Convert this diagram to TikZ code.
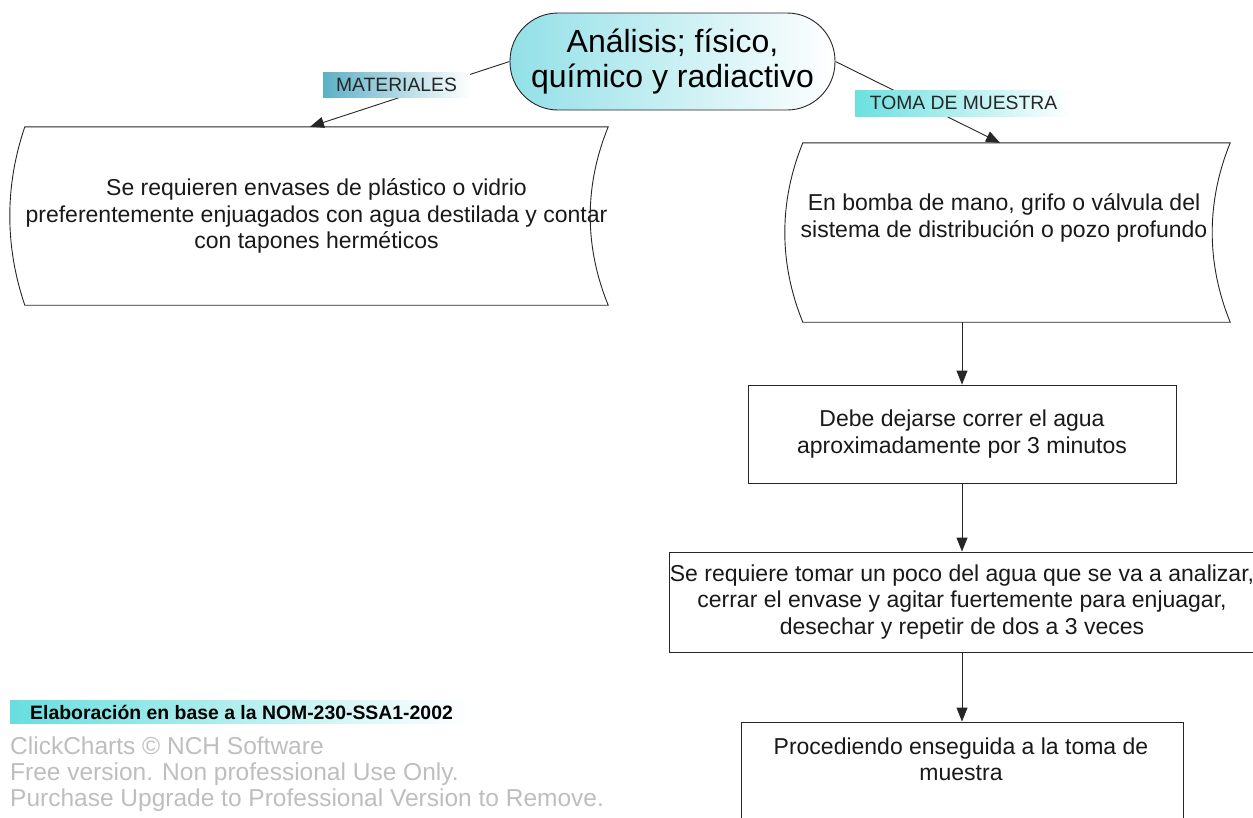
\documentclass[tikz,border=0pt]{standalone}
\usepackage{fontspec}
\setmainfont{Liberation Sans}
\usetikzlibrary{arrows.meta}
\definecolor{stadcyan}{RGB}{146,224,231}
\definecolor{matteal}{RGB}{92,176,198}
\definecolor{tomacyan}{RGB}{108,224,224}
\definecolor{footcyan}{RGB}{104,222,222}
\definecolor{wmgray}{RGB}{190,190,190}
\begin{document}
\begin{tikzpicture}[x=1pt,y=-1pt,
  line/.style={draw=black!85, line width=0.9pt},
  arr/.style={line, -{Triangle[length=14pt,width=11pt]}},
  body/.style={font=\fontsize{23}{26.5}\selectfont, align=center, text=black!90, inner sep=0pt},
  boxr/.style={line, rectangle, inner sep=0pt, fill=white},
  tag/.style={rectangle, inner sep=0pt, font=\fontsize{19.3}{22}\selectfont, text=black!85},
  ghost/.style={anchor=base west, inner sep=0pt, text=wmgray, font=\fontsize{24.5}{26}\selectfont}
]
\path[use as bounding box, clip] (0,0) rectangle (1253,817);

% central node
\node[line, rounded corners=48pt, left color=stadcyan, right color=white,
      minimum width=325pt, minimum height=97pt, inner sep=0pt, align=center,
      font=\fontsize{32}{35}\selectfont] (top) at (672.5,61.5)
      {Análisis; físico,\\químico y radiactivo};

% left stored-data box
\node[body, minimum width=583pt, minimum height=178pt] (mat) at (316.5,216)
  {Se requieren envases de plástico o vidrio\\preferentemente enjuagados con agua destilada y contar\\con tapones herméticos};
\draw[line] (mat.north west) -- (mat.north east)
  .. controls +(-24,59) and +(-24,-59) .. (mat.south east)
  -- (mat.south west)
  .. controls +(-20,-59) and +(-20,59) .. (mat.north west) -- cycle;

% right stored-data box
\node[minimum width=427pt, minimum height=179pt, inner sep=0pt] (samp) at (1016.5,232.5) {};
\draw[line] (samp.north west) -- (samp.north east)
  .. controls +(-24,59) and +(-24,-59) .. (samp.south east)
  -- (samp.south west)
  .. controls +(-24,-59) and +(-24,59) .. (samp.north west) -- cycle;
\node[body] (samptext) at (1004,218)
  {En bomba de mano, grifo o válvula del\\sistema de distribución o pozo profundo};

% process boxes
\node[boxr, body, minimum width=428pt, minimum height=98pt] (b2) at (962,434)
  {Debe dejarse correr el agua\\aproximadamente por 3 minutos};
\node[boxr, body, minimum width=580pt, minimum height=100pt] (b3) at (962,602)
  {Se requiere tomar un poco del agua que se va a analizar,\\cerrar el envase y agitar fuertemente para enjuagar,\\desechar y repetir de dos a 3 veces};
\node[boxr, minimum width=442pt, minimum height=200pt] (b4) at (962,822) {};
\node[body] (b4text) at (961,759.5) {Procediendo enseguida a la toma de\\muestra};

% connectors
\draw[arr] (top.west) -- ([xshift=-6.5pt]mat.north);
\draw[arr] (top.east) -- ([xshift=-16.5pt]samp.north);
\draw[arr] (samp.south -| b2.north) -- (b2.north);
\draw[arr] (b2.south) -- (b3.north);
\draw[arr] (b3.south) -- (b4.north);

% connector labels
\node[tag, left color=matteal, right color=white, minimum width=147pt, minimum height=25pt] (lmat) at (396.5,84.5) {MATERIALES};
\node[tag, left color=tomacyan, right color=white, minimum width=217pt, minimum height=26pt] (ltoma) at (963.5,103) {TOMA DE MUESTRA};

% footer
\node[anchor=west, left color=footcyan, right color=white, minimum width=460pt, minimum height=23pt, inner sep=0pt] (foot) at (10,712) {};
\node[anchor=west, inner sep=0pt, font=\bfseries\fontsize{19.4}{22}\selectfont] (foottext) at (30,712) {Elaboración en base a la NOM-230-SSA1-2002};
\node[ghost] (w1) at (10,754) {ClickCharts © NCH Software};
\node[ghost] (w2) at (10,780) {Free version. Non professional Use Only.};
\node[ghost] (w3) at (10,806) {Purchase Upgrade to Professional Version to Remove.};
\end{tikzpicture}
\end{document}
